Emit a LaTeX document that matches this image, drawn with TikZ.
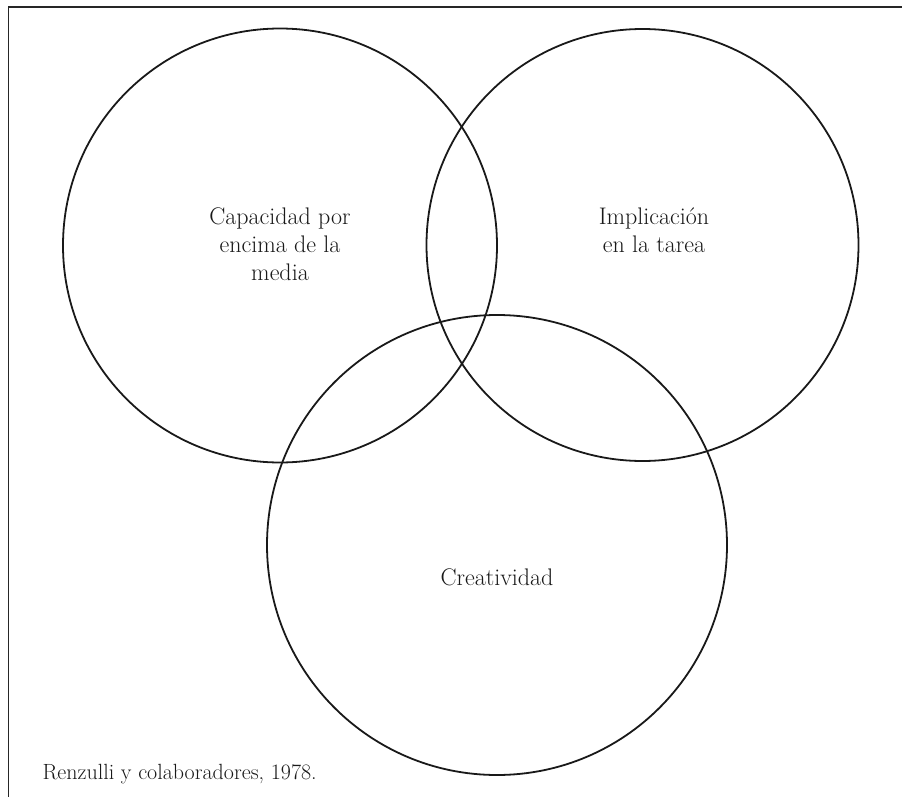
\documentclass[tikz,border=0pt]{standalone}
\begin{document}
\begin{tikzpicture}[x=1pt,y=-1pt,
  circ/.style={draw=black!90, line width=1.8pt},
  frame/.style={draw=black!85, line width=1.1pt},
  lbl/.style={align=center, font=\fontsize{24}{28}\selectfont, text=black!90}]
\useasboundingbox (0,0) rectangle (902,797);
\coordinate (tl) at (8.5,7);
\coordinate (tr) at (902,7);
\coordinate (bl) at (8.5,797);
\draw[frame] (tr) -- (tl) -- (bl);
\node[circ, circle, minimum size=434pt, inner sep=0pt] (cap) at (280,245.5) {};
\node[circ, circle, minimum size=432pt, inner sep=0pt] (imp) at (642.5,245) {};
\node[circ, circle, minimum size=460pt, inner sep=0pt] (cre) at (497,545) {};
\node[lbl] (capt) at (280,244) {Capacidad por\\encima de la\\media};
\node[lbl] (impt) at (654,230) {Implicación\\en la tarea};
\node[lbl] (cret) at (497,577) {Creatividad};
\node[lbl, font=\fontsize{22}{26}\selectfont, anchor=base west] (ren) at (39,779) {Renzulli y colaboradores, 1978.};
\end{tikzpicture}
\end{document}
